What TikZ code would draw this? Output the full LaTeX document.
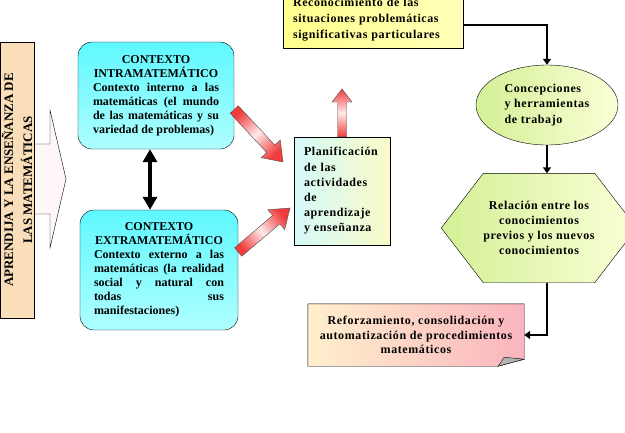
\documentclass[tikz,border=0pt]{standalone}
\usepackage{fontspec}
\setmainfont{Liberation Serif}
\newfontfamily\wide{Liberation Serif}[LetterSpace=5]
\usetikzlibrary{arrows.meta,calc,shapes.geometric,backgrounds}
\definecolor{peach}{RGB}{250,222,185}
\definecolor{cyanA}{RGB}{95,248,255}
\definecolor{cyanB}{RGB}{175,255,255}
\definecolor{planA}{RGB}{212,250,250}
\definecolor{planB}{RGB}{250,250,200}
\definecolor{yelA}{RGB}{255,255,140}
\definecolor{yelB}{RGB}{255,255,185}
\definecolor{limeA}{RGB}{212,240,150}
\definecolor{limeB}{RGB}{250,255,215}
\definecolor{pinkA}{RGB}{255,240,205}
\definecolor{pinkB}{RGB}{250,180,190}
\definecolor{arrred}{RGB}{240,60,60}
\newcommand{\redarrow}[6]{%
  \coordinate (hb) at ($(#2)!#6!(#1)$);
  \shadedraw[redarr,shading angle=#3] ($(#1)!#4!90:(#2)$) -- ($(hb)!#4!90:(#2)$)
    -- ($(hb)!#5!90:(#2)$) -- (#2) -- ($(hb)!#5!-90:(#2)$)
    -- ($(hb)!#4!-90:(#2)$) -- ($(#1)!#4!-90:(#2)$) -- cycle;}
\begin{document}
\begin{tikzpicture}[x=1pt,y=-1pt]
\tikzstyle{every node}=[font=\fontsize{12}{14}\selectfont\bfseries]
\tikzstyle{ctxbox}=[draw,rounded corners=14pt,top color=cyanA,bottom color=cyanB,align=justify,inner sep=0pt]
\tikzstyle{wbox}=[font=\wide\bfseries\fontsize{12}{15.2}\selectfont,inner sep=0pt]
\tikzstyle{redarr}=[draw=black!70,line width=0.4pt,top color=arrred,bottom color=arrred,middle color=red!8]
\tikzstyle{conn}=[line width=2.5pt,-{Triangle[width=8pt,length=6pt]}]
\useasboundingbox (0,0) rectangle (625,432);
\node[draw,fill=peach,rotate=90,minimum width=276pt,minimum height=34pt,inner sep=0pt,align=center,
      font=\fontsize{13}{19}\selectfont\bfseries] at (17,180) (aprend) {APRENDIJA Y LA ENSEÑANZA DE\\LAS MATEMÁTICAS};
\node[ctxbox,text width=126pt,minimum width=156pt,minimum height=107pt] at (156,95.5) (intra)
  {{\centering CONTEXTO\\INTRAMATEMÁTICO\par}
   Contexto interno a las\linebreak matemáticas (el mundo\linebreak de las matemáticas y su\linebreak variedad de problemas)};
\node[ctxbox,text width=130pt,minimum width=158pt,minimum height=120pt] at (159,270) (extra)
  {{\centering CONTEXTO\\EXTRAMATEMÁTICO\par}
   Contexto externo a las\linebreak matemáticas (la realidad\linebreak social y natural con\linebreak todas sus\linebreak manifestaciones)};
\node[wbox,draw,left color=planA,right color=planB,align=left,text width=76pt,minimum width=96pt,minimum height=108pt]
  at (342,191) (plan) {Planificación\\de las\\actividades\\de\\aprendizaje\\y enseñanza};
\node[wbox,draw,left color=yelA,right color=yelB,align=left,text width=160pt,minimum width=180pt,minimum height=56pt,
      font=\wide\bfseries\fontsize{12}{16}\selectfont] at (373,20) (recon)
  {Reconocimiento de las\\situaciones problemáticas\\significativas particulares};
\node[wbox,draw,ellipse,left color=limeA,right color=limeB,align=left,minimum width=142pt,minimum height=80pt]
  at (547,105) (conc) {Concepciones\\y herramientas\\de trabajo};
\node[wbox,align=center,minimum width=110pt,minimum height=109pt] at (539,228) (rel)
  {Relación entre los\\conocimientos\\previos y los nuevos\\conocimientos};
\node[wbox,align=center,minimum width=216pt,minimum height=62pt,font=\wide\bfseries\fontsize{12}{14.5}\selectfont]
  at (416,335) (ref) {Reforzamiento, consolidación y\\automatización de procedimientos\\matemáticos};
\begin{scope}[on background layer]
\filldraw[fill=red!3,draw=black,thin] (20,144) -- (50,144) -- (50,110) -- (66,179) -- (50,248) -- (50,214) -- (20,214) -- cycle;
\shadedraw[left color=limeA,right color=limeB] (rel.north west) -- (rel.north east) -- ([xshift=42pt]rel.east)
  -- (rel.south east) -- (rel.south west) -- ([xshift=-42pt]rel.west) -- cycle;
\shadedraw[left color=pinkA,right color=pinkB] (ref.north west) -- (ref.north east) -- ([yshift=7pt]ref.south east)
  -- ([xshift=-26pt]ref.south east) -- (ref.south west) -- cycle;
\filldraw[fill=gray!60,draw=black,thin] ([xshift=-26pt]ref.south east) -- ([xshift=-20pt,yshift=9pt]ref.south east)
  -- ([yshift=7pt]ref.south east) -- cycle;
\end{scope}
\draw[line width=3.5pt,{Triangle[width=14pt,length=13pt]}-{Triangle[width=14pt,length=13pt]}]
  ([xshift=-6pt]intra.south) -- ([xshift=-6pt]intra.south |- extra.north);
\coordinate (t1) at ([yshift=-14pt]intra.east);
\coordinate (p1) at (283,162);
\redarrow{t1}{p1}{43}{5.5pt}{13pt}{18pt}
\coordinate (t2) at ([yshift=18pt]extra.east);
\coordinate (p2) at (290,208);
\redarrow{t2}{p2}{130}{5.5pt}{13pt}{18pt}
\coordinate (p3) at (342,89);
\redarrow{plan.north}{p3}{0}{4.5pt}{10pt}{13pt}
\draw[conn] ([yshift=-5pt]recon.east) -| (conc.north);
\draw[conn] (conc.south) -- (conc.south |- rel.north);
\draw[conn] (conc.south |- rel.south) |- (ref.east);
\end{tikzpicture}
\end{document}
